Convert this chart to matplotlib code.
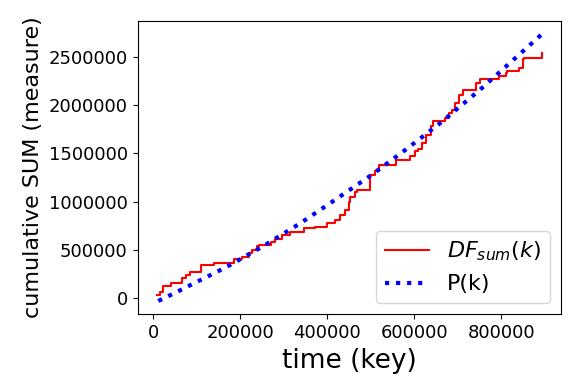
import matplotlib
matplotlib.use("Agg")
import matplotlib.pyplot as plt

# Red step series: cumulative SUM (step start key, level)
df_keys = [8500, 16700, 22900, 41000, 65600, 75400, 85300, 109700, 140000, 186000,
           205000, 220000, 228000, 239000, 243000, 270000, 281000, 296000, 315000,
           346000, 372600, 399000, 418000, 430000, 441000, 449000, 453000, 464000,
           468000, 498000, 510000, 520000, 559000, 590000, 601000, 609000, 617000,
           628000, 639000, 643000, 670000, 681000, 687000, 693000, 702000, 712000,
           742000, 750000, 795000, 811000, 813000, 841000, 849000, 853000, 893000]
df_sum = [31000, 66000, 125000, 159000, 205000, 239000, 274000, 343000, 367000, 402000,
          430000, 464000, 499000, 540000, 551000, 585000, 610000, 655000, 690000,
          724000, 741000, 776000, 811000, 863000, 915000, 1000000, 1053000, 1105000,
          1123000, 1278000, 1313000, 1382000, 1427000, 1469000, 1521000, 1545000, 1608000,
          1694000, 1781000, 1833000, 1868000, 1920000, 1954000, 2024000, 2110000, 2162000,
          2232000, 2266000, 2300000, 2335000, 2352000, 2387000, 2474000, 2484000, 2543000]

# Blue dotted model P(k)
p_keys = [12000, 36000, 58000, 168000, 252000, 338000, 418000, 499000, 578000,
          656000, 750000, 823000, 893000]
p_vals = [-28000, 24000, 73000, 322000, 537000, 776000, 1019000, 1268000, 1531000,
          1801000, 2155000, 2450000, 2734000]

fig = plt.figure(figsize=(5.81, 3.88), dpi=100)
ax = fig.add_axes([0.2367, 0.19, 0.7289, 0.756])

ax.plot(df_keys, df_sum, color="red", lw=1.5, drawstyle="steps-post",
        label=r"$DF_{sum}(k)$")
ax.plot(p_keys, p_vals, color="blue", lw=3, linestyle=":", label="P(k)")

ax.set_xticks([0, 200000, 400000, 600000, 800000])
ax.set_yticks([0, 500000, 1000000, 1500000, 2000000, 2500000])
ax.ticklabel_format(style="plain", useOffset=False)
ax.tick_params(labelsize=13)
ax.set_xlabel("time (key)", fontsize=19)
ax.set_ylabel("cumulative SUM (measure)", fontsize=16)
ax.legend(loc="lower right", fontsize=16)

fig.savefig("out.png", dpi=100)
